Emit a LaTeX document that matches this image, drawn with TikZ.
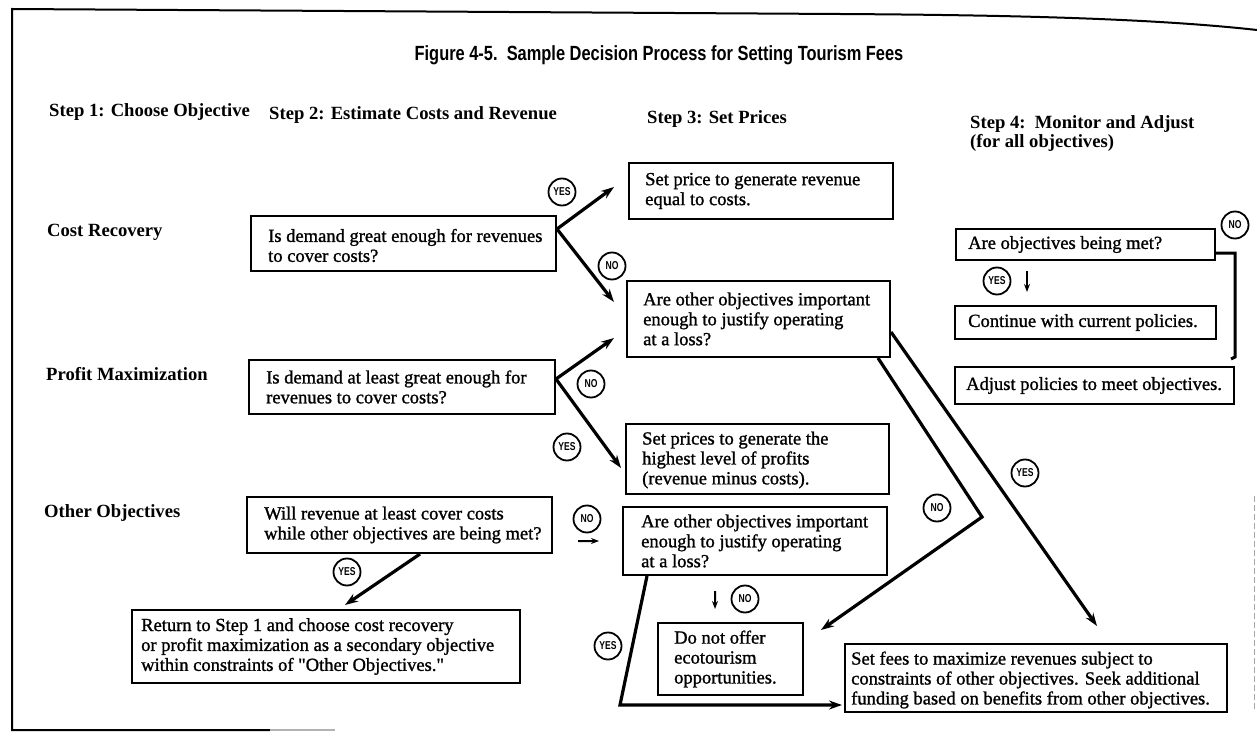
\documentclass[tikz,border=0pt]{standalone}
\usepackage{fontspec}
\setmainfont{Liberation Serif}
\newfontfamily\bodyfont{Liberation Serif}[FakeBold=1.2]
\newfontfamily\titlefont{Liberation Sans}[FakeStretch=0.8]
\newfontfamily\circfont{Liberation Sans}[FakeStretch=0.75]
\usetikzlibrary{arrows.meta,calc}
\begin{document}
\begin{tikzpicture}[x=1bp,y=-1bp,
  bx/.style={draw,line width=2bp,inner sep=0pt},
  txt/.style={anchor=west,align=left,inner sep=0pt,font=\bodyfont\fontsize{18.6}{20}\selectfont},
  hdr/.style={anchor=west,align=left,inner sep=0pt,font=\fontsize{18.7}{19}\selectfont\bfseries},
  yn/.style={draw,circle,line width=1.8bp,inner sep=0pt,minimum size=27bp,font=\circfont\bfseries\fontsize{11.5}{11.5}\selectfont},
  arr/.style={line width=3.2bp,-{Stealth[length=13bp,width=9bp]}},
  sarr/.style={line width=2bp,-{Stealth[length=8bp,width=6bp]}}]
\useasboundingbox (0,0) rectangle (1257,734);
% frame
\draw[line width=2bp] (1257,30) .. controls (1150,18) and (1000,15) .. (840,14) -- (12,9) -- (12,730) -- (270,730);
\draw[line width=2bp,gray!60] (270,730) -- (335,730);
\draw[gray!70,line width=1bp,dash pattern=on 6bp off 3bp] (1254,496) -- (1254,712);
% title and headers
\node[font=\titlefont\bfseries\fontsize{20.6}{23}\selectfont,inner sep=0pt] (title) at (659,55) {Figure 4-5.\ \ Sample Decision Process for Setting Tourism Fees};
\node[hdr] (h1) at (49,112) {Step 1: Choose Objective};
\node[hdr] (h2) at (269,115) {Step 2: Estimate Costs and Revenue};
\node[hdr] (h3) at (647,119) {Step 3: Set Prices};
\node[hdr] (h4) at (970,133.5) {Step 4:\ \ Monitor and Adjust\\(for all objectives)};
\node[hdr] (l1) at (47,232) {Cost Recovery};
\node[hdr] (l2) at (46,374) {Profit Maximization};
\node[hdr] (l3) at (44,513) {Other Objectives};
% boxes
\node[bx,minimum width=264bp,minimum height=56bp] (setprice) at (761,191) {};
\node[bx,minimum width=305bp,minimum height=55bp] (q1) at (403.5,243.5) {};
\node[bx,minimum width=263bp,minimum height=76bp] (boxA) at (758.5,319) {};
\node[bx,minimum width=306bp,minimum height=54bp] (q2) at (402,387) {};
\node[bx,minimum width=263bp,minimum height=70bp] (setprices) at (757.5,459) {};
\node[bx,minimum width=305bp,minimum height=56bp] (q3) at (399.5,525) {};
\node[bx,minimum width=264bp,minimum height=68bp] (boxB) at (755,541) {};
\node[bx,minimum width=145bp,minimum height=72bp] (donot) at (730.5,659) {};
\node[bx,minimum width=388bp,minimum height=73bp] (return) at (326,646.5) {};
\node[bx,minimum width=382bp,minimum height=68bp] (setfees) at (1036,678) {};
\node[bx,minimum width=259bp,minimum height=31bp] (areobj) at (1085.5,244.5) {};
\node[bx,minimum width=261bp,minimum height=33bp] (continue) at (1085.5,322.5) {};
\node[bx,minimum width=279bp,minimum height=37bp] (adjust) at (1094.5,385.5) {};
% box texts
\node[txt] (setpricet) at ([xshift=17bp]setprice.west) {Set price to generate revenue\\equal to costs.};
\node[txt] (q1t) at ([xshift=18bp,yshift=-2bp]q1.west) {Is demand great enough for revenues\\to cover costs?};
\node[txt] (boxAt) at ([xshift=17bp]boxA.west) {Are other objectives important\\enough to justify operating\\at a loss?};
\node[txt] (q2t) at ([xshift=18bp]q2.west) {Is demand at least great enough for\\revenues to cover costs?};
\node[txt] (setpricest) at ([xshift=17bp,yshift=-1bp]setprices.west) {Set prices to generate the\\highest level of profits\\(revenue minus costs).};
\node[txt] (q3t) at ([xshift=18bp]q3.west) {Will revenue at least cover costs\\while other objectives are being met?};
\node[txt] (boxBt) at ([xshift=19bp]boxB.west) {Are other objectives important\\enough to justify operating\\at a loss?};
\node[txt] (donott) at ([xshift=17bp]donot.west) {Do not offer\\ecotourism\\opportunities.};
\node[txt] (returnt) at ([xshift=10bp]return.west) {Return to Step 1 and choose cost recovery\\or profit maximization as a secondary objective\\within constraints of "Other Objectives."};
\node[txt] (setfeest) at ([xshift=7bp,yshift=-2bp]setfees.west) {Set fees to maximize revenues subject to\\constraints of other objectives. Seek additional\\funding based on benefits from other objectives.};
\node[txt] (areobjt) at ([xshift=13bp]areobj.west) {Are objectives being met?};
\node[txt] (continuet) at ([xshift=14bp]continue.west) {Continue with current policies.};
\node[txt] (adjustt) at ([xshift=12bp]adjust.west) {Adjust policies to meet objectives.};
% yes / no marks
\node[yn] (yes1) at (562,192) {YES};
\node[yn] (no1) at (612,266) {NO};
\node[yn] (no2) at (591,384) {NO};
\node[yn] (yes2) at (567,447) {YES};
\node[yn] (no3) at (587,519) {NO};
\node[yn] (yes3) at (347,572) {YES};
\node[yn] (no4) at (745,599) {NO};
\node[yn] (yes4) at (608,646) {YES};
\node[yn] (noA) at (937,508) {NO};
\node[yn] (yesA) at (1025,473) {YES};
\node[yn] (yesS) at (997,281) {YES};
\node[yn] (noS) at (1235,225) {NO};
% connectors
\draw[arr] ([yshift=14.5bp]q1.east) -- ([xshift=-14bp,yshift=4bp]setprice.west);
\draw[arr] ([yshift=14.5bp]q1.east) -- ([xshift=-12bp,yshift=17bp]boxA.west);
\draw[arr] ([yshift=8bp]q2.east) -- ([xshift=-12bp,yshift=20bp]boxA.south west);
\draw[arr] ([yshift=8bp]q2.east) -- ([xshift=-4bp,yshift=-9bp]setprices.west);
\draw[arr] ([xshift=20.5bp]q3.south) -- ([xshift=19bp,yshift=4bp]return.north);
\draw[sarr] ([xshift=25bp,yshift=-16bp]q3.east) -- ([xshift=-23bp]boxB.west);
\draw[sarr] ([xshift=-40bp,yshift=-15bp]boxB.south) -- ([xshift=-15.5bp,yshift=13bp]donot.north);
\coordinate (bendB) at (620,705);
\draw[arr] ([xshift=25bp]boxB.south west) -- (bendB) -- ([xshift=-2bp,yshift=-27bp]setfees.west);
\coordinate (bendA) at (982,517);
\draw[arr] ([xshift=-13bp]boxA.south east) -- (bendA) -- ([xshift=17bp,yshift=29bp]donot.east);
\draw[arr] ([yshift=-13bp]boxA.east) -- ([xshift=61bp,yshift=17bp]setfees.north);
\draw[sarr] ([xshift=-58.5bp,yshift=-10bp]areobj.south) -- ([xshift=-58.5bp,yshift=13bp]continue.north);
\draw[line width=3bp] ([yshift=-8.5bp]areobj.east) -| ([yshift=9bp]adjust.north east) -- ++(-4,2);
\end{tikzpicture}
\end{document}
